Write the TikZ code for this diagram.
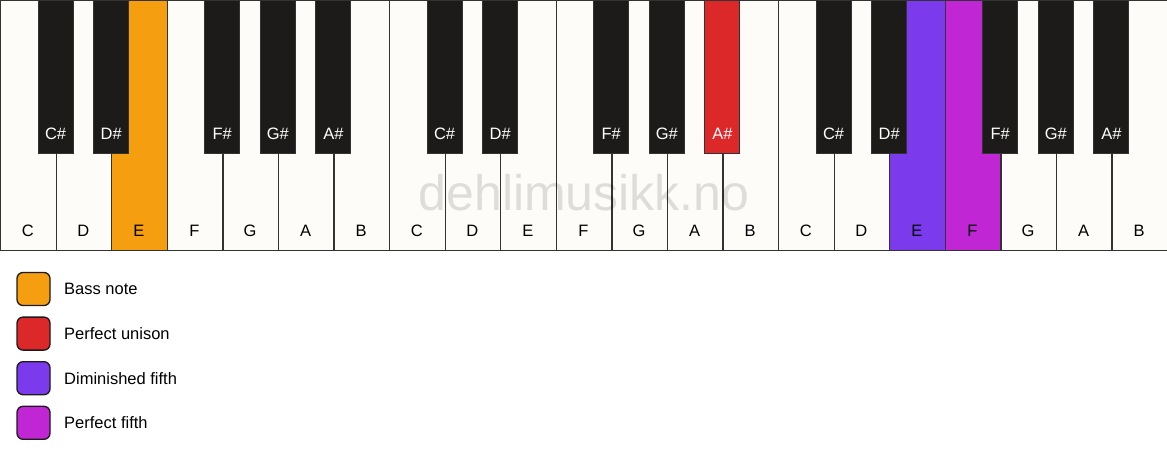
\documentclass[tikz,border=0pt]{standalone}
\usepackage{fontspec}
\setmainfont{Liberation Sans}
\usetikzlibrary{positioning}
\definecolor{ivory}{HTML}{FDFCF8}
\definecolor{ebony}{HTML}{1C1B19}
\definecolor{keyline}{HTML}{333333}
\definecolor{bass}{HTML}{F49E10}
\definecolor{unison}{HTML}{DC2828}
\definecolor{dimfifth}{HTML}{7B3AEC}
\definecolor{perffifth}{HTML}{C026D3}

\begin{document}
\begin{tikzpicture}[x=1pt,y=-1pt,
    wkey/.style={draw=keyline,line width=1.3pt,minimum width=55.571pt,minimum height=250pt,inner sep=0pt,anchor=north west},
    bkey/.style={draw=keyline,line width=1pt,minimum width=35pt,minimum height=153pt,inner sep=0pt,anchor=north},
    note/.style={font=\fontsize{16.5}{19}\selectfont},
    swatch/.style={draw=ebony,line width=1.3pt,rounded corners=6pt,minimum size=33pt,inner sep=0pt}]
        \useasboundingbox (0,0) rectangle (1167,461);
        % white keys
        \foreach \n/\c [count=\i from 0] in {C/ivory,D/ivory,E/bass,F/ivory,G/ivory,A/ivory,B/ivory,
                                             C/ivory,D/ivory,E/ivory,F/ivory,G/ivory,A/ivory,B/ivory,
                                             C/ivory,D/ivory,E/dimfifth,F/perffifth,G/ivory,A/ivory,B/ivory} {
            \node[wkey,fill=\c] (w\i) at ({\i*55.571},0) {};
            \node[note,anchor=base] (wl\i) at ({(\i+0.5)*55.571},236) {\n};
        }
        % watermark
        \node[font=\fontsize{50}{60}\selectfont,text=black,text opacity=0.12] (mark) at (584,193) {dehlimusikk.no};
        % black keys
        \foreach \b/\n/\c in {1/C\#/ebony,2/D\#/ebony,4/F\#/ebony,5/G\#/ebony,6/A\#/ebony,
                              8/C\#/ebony,9/D\#/ebony,11/F\#/ebony,12/G\#/ebony,13/A\#/unison,
                              15/C\#/ebony,16/D\#/ebony,18/F\#/ebony,19/G\#/ebony,20/A\#/ebony} {
            \node[bkey,fill=\c] (b\b) at ({\b*55.571},0) {};
            \node[note,text=white,anchor=base] (bl\b) at ({\b*55.571},139) {\n};
        }
        % legend
        \foreach \t/\c [count=\j from 0] in {Bass note/bass,Perfect unison/unison,Diminished fifth/dimfifth,Perfect fifth/perffifth} {
            \node[swatch,fill=\c] (sw\j) at (33.5,{289+44.6*\j}) {};
            \node[note,right=10pt of sw\j] (lg\j) {\t};
        }
    \end{tikzpicture}
\end{document}
